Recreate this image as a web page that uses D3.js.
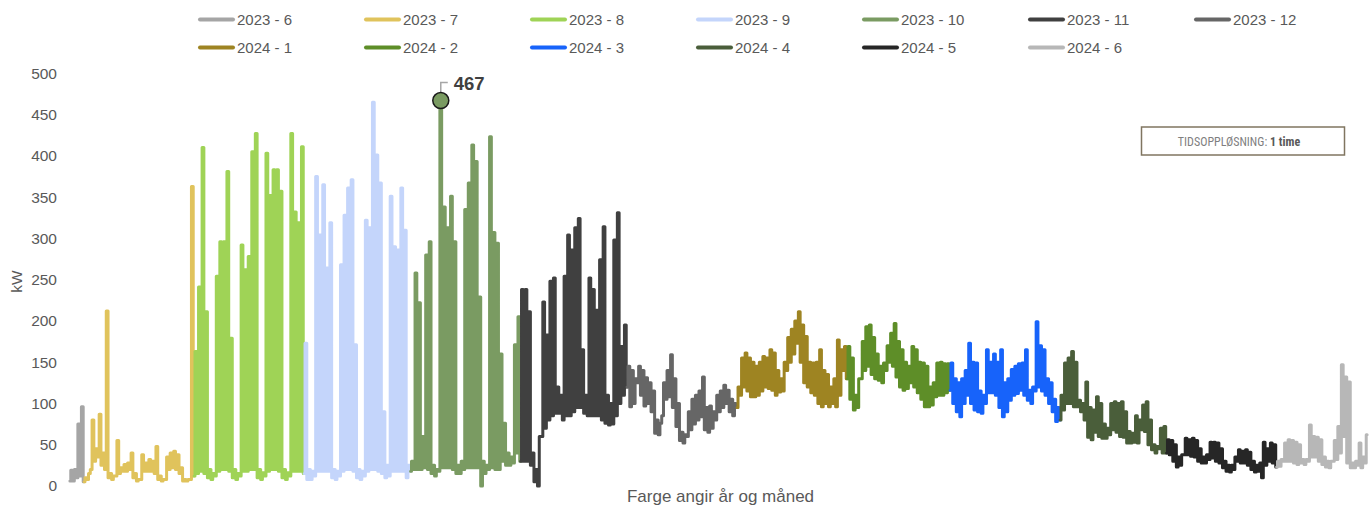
<!DOCTYPE html>
<html><head><meta charset="utf-8">
<script src="https://cdn.jsdelivr.net/npm/d3@7"></script>
<style>body{margin:0;background:#fff}svg{display:block}</style>
</head><body><svg id="c" width="1370" height="506"></svg>
<script>
// ---------- DATA ----------
const seriesNames = ["2023 - 6","2023 - 7","2023 - 8","2023 - 9","2023 - 10","2023 - 11","2023 - 12",
                     "2024 - 1","2024 - 2","2024 - 3","2024 - 4","2024 - 5","2024 - 6"];
const seriesColors = ["#A5A5A5","#E0C35C","#9FD356","#C4D5FB","#7A9B62","#404040","#666666",
                      "#9E8422","#5E8E28","#1763FA","#4A5E3A","#262626","#B7B7B7"];
const seriesStart = ["2023-06-27","2023-07-01","2023-08-01","2023-09-01","2023-10-01","2023-11-01","2023-12-01",
                     "2024-01-01","2024-02-01","2024-03-01","2024-04-01","2024-05-01","2024-06-01"];
// daily night minimum (kW)
const lo_2023_06 = [6,6,10,12];
const lo_2023_07 = [5,8,20,30,35,25,20,10,8,12,15,18,18,20,10,6,8,18,18,18,15,8,6,8,20,22,20,15,6,6,8];
const lo_2023_08 = [12,15,18,15,10,8,12,18,20,20,18,10,8,12,18,18,20,20,10,8,12,18,20,20,18,10,8,12,18,18,18];
const lo_2023_09 = [15,8,8,12,18,18,18,18,10,8,12,18,20,20,18,10,8,12,18,20,20,18,15,10,12,18,18,18,18,10];
const lo_2023_10 = [18,20,20,20,22,20,15,12,18,22,22,22,20,15,15,20,22,22,22,22,0,15,20,22,20,20,30,25,25,28,40];
const lo_2023_11 = [30,30,30,25,5,0,60,70,80,85,88,88,80,85,85,90,95,95,88,85,85,85,85,80,76,74,75,85,100,110];
const lo_2023_12 = [120,96,100,125,110,97,100,90,64,62,85,105,108,95,72,55,52,60,68,75,80,84,68,65,70,80,90,95,100,90,85];
const lo_2024_01 = [95,110,120,115,108,108,110,115,120,118,116,110,114,115,140,150,160,173,150,125,120,113,110,100,96,100,96,100,96,110,140];
const lo_2024_02 = [130,105,92,95,130,140,145,135,130,128,125,140,150,145,132,120,116,118,125,120,113,105,96,96,98,108,110,110,113];
const lo_2024_03 = [116,100,90,84,100,110,100,92,90,88,100,113,113,110,95,84,90,104,110,112,116,110,104,100,115,120,115,110,100,90,78];
const lo_2024_04 = [80,92,100,100,96,96,90,80,59,56,65,60,58,58,62,68,65,60,59,52,52,53,52,68,66,50,44,40,45,40];
const lo_2024_05 = [40,38,30,23,25,38,38,36,35,30,28,28,32,34,30,28,22,18,17,20,30,28,28,25,20,17,18,10,25,30,28];
const lo_2024_06 = [23,24,30,30,30,28,26,28,26,30,35,35,30,26,23,22,30,32,40,60,28,22,22,25,22,28];
// daily maximum (kW)
const hi_2023_06 = [19,20,75,96];
const hi_2023_07 = [10,15,80,45,87,40,212,15,12,55,22,26,28,40,15,8,38,28,32,30,48,12,8,35,40,42,38,22,8,8,363];
const hi_2023_08 = [163,241,410,211,20,15,254,296,296,381,179,20,15,292,262,278,405,427,20,16,403,352,383,383,357,20,16,427,332,319,411];
const hi_2023_09 = [173,20,18,375,304,365,264,319,20,18,268,328,361,371,171,20,18,322,313,465,401,367,90,25,351,290,286,361,310,25];
const hi_2023_10 = [30,258,222,60,280,296,25,20,467,338,313,351,296,25,30,335,367,413,393,229,30,25,423,307,294,160,76,40,35,171,205];
const hi_2023_11 = [238,238,211,40,20,60,223,183,248,252,120,110,254,304,286,313,324,165,110,252,238,213,274,314,110,100,298,331,169,195];
const hi_2023_12 = [145,140,130,145,140,131,125,115,80,76,125,140,159,130,100,65,62,90,105,110,115,132,95,97,90,110,115,122,116,105,100];
const hi_2024_01 = [120,155,161,155,150,145,150,157,155,165,161,140,130,150,180,190,200,211,195,181,150,149,150,165,140,135,120,130,177,165,169];
const hi_2024_02 = [169,155,110,130,175,193,195,180,160,145,149,170,185,197,175,165,150,145,169,165,150,149,145,120,125,149,150,148,148];
const hi_2024_03 = [149,130,125,130,140,173,150,149,115,110,165,150,160,150,165,125,130,141,145,148,149,165,116,120,199,170,165,130,125,105,95];
const hi_2024_04 = [110,149,155,163,150,104,100,126,95,92,108,100,75,70,100,102,100,102,90,66,64,85,80,98,102,80,50,48,70,72];
const hi_2024_05 = [56,55,50,35,38,58,56,58,55,45,35,38,53,53,52,45,30,25,25,35,44,42,44,41,30,25,28,53,45,52,50];
const hi_2024_06 = [30,32,52,56,55,53,50,32,32,74,60,59,56,35,30,30,55,72,147,132,126,28,30,52,35,62];

const yTicks = [0,50,100,150,200,250,300,350,400,450,500];
const yTitle = "kW";
const xTitle = "Farge angir år og måned";
const boxLabel = "TIDSOPPLØSNING: ";
const boxValue = "1 time";

const los = [lo_2023_06,lo_2023_07,lo_2023_08,lo_2023_09,lo_2023_10,lo_2023_11,lo_2023_12,lo_2024_01,lo_2024_02,lo_2024_03,lo_2024_04,lo_2024_05,lo_2024_06];
const his = [hi_2023_06,hi_2023_07,hi_2023_08,hi_2023_09,hi_2023_10,hi_2023_11,hi_2023_12,hi_2024_01,hi_2024_02,hi_2024_03,hi_2024_04,hi_2024_05,hi_2024_06];

// ---------- CHART ----------
const svg = d3.select("#c");
const x = d3.scaleUtc()
  .domain([new Date(Date.UTC(2023,5,27)), new Date(Date.UTC(2024,5,27))])
  .range([69, 1368]);
const y = d3.scaleLinear().domain([0,500]).range([486, 73.3]);

const series = seriesNames.map((name,i)=>{
  const start = new Date(seriesStart[i]+"T00:00:00Z");
  const pts = [];
  los[i].forEach((v,d)=>{
    const day = d3.utcDay.offset(start,d);
    pts.push({t: d3.utcHour.offset(day,6), v: los[i][d]});
    pts.push({t: d3.utcHour.offset(day,18), v: his[i][d]});
  });
  return {name, color: seriesColors[i], pts};
});
series.forEach((s,i)=>{
  s.draw = i < series.length-1 ? s.pts.concat([series[i+1].pts[0]]) : s.pts;
});

const line = d3.line().x(d=>x(d.t)).y(d=>y(d.v)).curve(d3.curveStep);
svg.append("g").selectAll("path").data(series).join("path")
  .attr("d", d=>line(d.draw))
  .attr("fill","none")
  .attr("stroke", d=>d.color)
  .attr("stroke-width", 3)
  .attr("stroke-linejoin","round")
  .attr("stroke-linecap","round");

// y axis
const yAxis = svg.append("g").attr("transform","translate(63,0)")
  .call(d3.axisLeft(y).tickValues(yTicks).tickSize(0).tickPadding(6));
yAxis.select(".domain").remove();
yAxis.selectAll("text").attr("fill","#595959").style("font-family","'Liberation Sans',Arial,sans-serif").style("font-size","15.5px");

svg.append("text").attr("transform","translate(22,281.5) rotate(-90)")
  .attr("text-anchor","middle").attr("fill","#595959")
  .style("font-family","'Liberation Sans',Arial,sans-serif").style("font-size","15.5px").text(yTitle);

svg.append("text").attr("x",720.5).attr("y",502).attr("text-anchor","middle").attr("fill","#595959")
  .style("font-family","'Liberation Sans',Arial,sans-serif").style("font-size","17px").text(xTitle);

// legend
const leg = svg.append("g");
series.forEach((s,i)=>{
  const row = i < 7 ? 0 : 1;
  const col = i < 7 ? i : i-7;
  const lx = 198 + col*166, ly = row===0 ? 19.5 : 47.5;
  leg.append("line").attr("x1",lx+2).attr("x2",lx+35).attr("y1",ly).attr("y2",ly)
    .attr("stroke",s.color).attr("stroke-width",4).attr("stroke-linecap","round");
  leg.append("text").attr("x",lx+39).attr("y",ly+5.3).attr("fill","#595959")
    .style("font-family","'Liberation Sans',Arial,sans-serif").style("font-size","15px").text(s.name);
});

// peak annotation
let peak = null;
series.forEach(s=>s.pts.forEach(p=>{ if(!peak || p.v>peak.v) peak = {...p, color:s.color}; }));
const px = x(peak.t), py = y(peak.v);
svg.append("path").attr("d",`M${px},${py-8}V${py-18}H${px+7}`)
  .attr("fill","none").attr("stroke","#A6A6A6").attr("stroke-width",1.5);
svg.append("circle").attr("cx",px).attr("cy",py).attr("r",8)
  .attr("fill",peak.color).attr("stroke","#1a1a1a").attr("stroke-width",1.5);
svg.append("text").attr("x",px+13).attr("y",py-11).attr("fill","#404040")
  .style("font-family","'Liberation Sans',Arial,sans-serif").style("font-size","18.5px").style("font-weight","bold")
  .text(d3.format("d")(peak.v));

// resolution box
svg.append("rect").attr("x",1141.5).attr("y",127).attr("width",203).attr("height",28)
  .attr("fill","#fff").attr("stroke","#807560").attr("stroke-width",1.5);
const bt = svg.append("text").attr("x",1239).attr("y",146).attr("text-anchor","middle")
  .style("font-family","'Liberation Sans Narrow','Arial Narrow','Roboto Condensed',sans-serif").style("font-size","12px");
bt.append("tspan").attr("fill","#7F7F7F").text(boxLabel);
bt.append("tspan").attr("fill","#595959").style("font-weight","bold").text(boxValue);
</script></body></html>
